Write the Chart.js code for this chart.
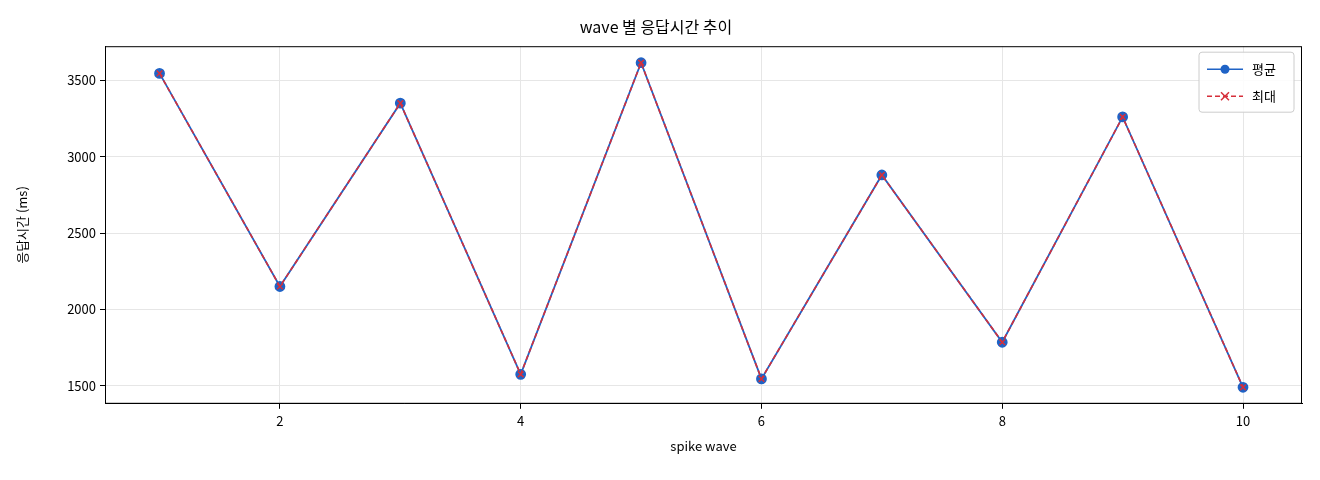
<!DOCTYPE html>
<html><head><meta charset="utf-8">
<script src="https://cdn.jsdelivr.net/npm/chart.js@4"></script>
<style>body{margin:0;background:#fff}#w{width:1320px;height:480px}</style>
</head><body><div id="w"><canvas id="c"></canvas></div>
<script>
const waves=[1,2,3,4,5,6,7,8,9,10];
const avgVals=[3545,2150,3350,1575,3615,1545,2880,1785,3260,1490];
const maxVals=[3545,2150,3350,1575,3615,1545,2880,1785,3260,1490];
const xTicks=[2,4,6,8,10];
const yTicks=[1500,2000,2500,3000,3500];
const F="'Noto Sans CJK KR','DejaVu Sans',sans-serif";
Chart.defaults.font.family=F;Chart.defaults.color='#000';
const legendPlugin={id:'lg',afterDraw(ch){const c=ch.ctx,a=ch.chartArea;
 c.save();c.strokeStyle='#000';c.lineWidth=1;c.strokeRect(a.left+0.5,a.top+0.5,a.right-a.left-1,a.bottom-a.top-1);
 const w=95,h=60,x=a.right-w-8,y=a.top+6;
 c.fillStyle='rgba(255,255,255,0.85)';c.strokeStyle='#ccc';
 c.beginPath();c.roundRect(x,y,w,h,3);c.fill();c.stroke();
 const items=[['평균','#1f63c6',[],'c'],['최대','#d62f3a',[5,3],'x']];
 items.forEach((it,i)=>{const yy=y+17+i*27;c.strokeStyle=it[1];c.lineWidth=1.6;c.setLineDash(it[2]);
  c.beginPath();c.moveTo(x+8,yy);c.lineTo(x+44,yy);c.stroke();c.setLineDash([]);
  c.fillStyle=it[1];
  if(it[3]=='c'){c.beginPath();c.arc(x+26,yy,4.5,0,7);c.fill();}
  else{c.lineWidth=1.5;c.beginPath();c.moveTo(x+22,yy-4);c.lineTo(x+30,yy+4);c.moveTo(x+30,yy-4);c.lineTo(x+22,yy+4);c.stroke();}
  c.fillStyle='#000';c.font='13px '+F;c.textBaseline='middle';c.fillText(it[0],x+53,yy);});
 c.restore();}};
new Chart(document.getElementById('c'),{type:'line',
data:{datasets:[
 {label:'평균',order:2,data:waves.map((x,i)=>({x,y:avgVals[i]})),borderColor:'#1f63c6',backgroundColor:'#1f63c6',borderWidth:1.8,pointRadius:4.5,pointHoverRadius:4.5,pointStyle:'circle'},
 {label:'최대',order:1,data:waves.map((x,i)=>({x,y:maxVals[i]})),borderColor:'#d62f3a',backgroundColor:'#d62f3a',borderWidth:1.6,borderDash:[5,3],pointRadius:4,pointStyle:'crossRot',pointBorderWidth:1.5}
]},
plugins:[legendPlugin],
options:{responsive:true,maintainAspectRatio:false,animation:false,
 layout:{padding:{left:10,right:18,top:13,bottom:22}},
 plugins:{legend:{display:false},tooltip:{enabled:false},
  title:{display:true,text:'wave 별 응답시간 추이',font:{size:16,weight:'normal'},padding:{top:4,bottom:10}}},
 scales:{
  x:{type:'linear',min:0.547,max:10.49,afterBuildTicks(s){s.ticks=xTicks.map(v=>({value:v}))},
   ticks:{font:{size:13},padding:4,callback:v=>String(v)},grid:{color:'#e6e6e6',tickColor:'#000',tickLength:5},border:{color:'#000'},
   title:{display:true,text:'spike wave',font:{size:13},padding:{top:6}}},
  y:{min:1382,max:3723,afterBuildTicks(s){s.ticks=yTicks.map(v=>({value:v}))},
   afterFit(s){s.width=95},
   ticks:{font:{size:13},padding:4,callback:v=>String(v)},grid:{color:'#e6e6e6',tickColor:'#000',tickLength:5},border:{color:'#000'},
   title:{display:true,text:'응답시간 (ms)',font:{size:13},padding:{bottom:6}}}
 }}});
</script></body></html>
